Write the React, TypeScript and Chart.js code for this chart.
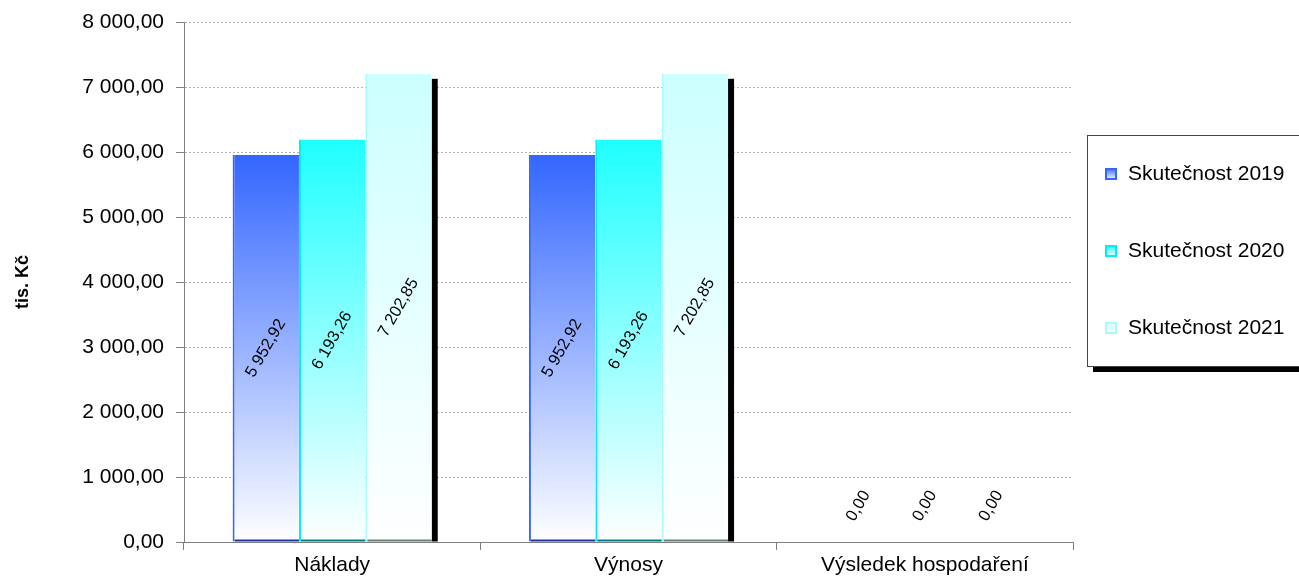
import React, { useEffect, useRef } from 'react';
import { Chart, registerables } from 'chart.js';

Chart.register(...registerables);

const categories = ['Náklady', 'Výnosy', 'Výsledek hospodaření'];
const seriesLabels = ['Skutečnost 2019', 'Skutečnost 2020', 'Skutečnost 2021'];
const values2019 = [5952.92, 5952.92, 0];
const values2020 = [6193.26, 6193.26, 0];
const values2021 = [7202.85, 7202.85, 0];
const yMin = 0;
const yMax = 8000;
const yStep = 1000;
const axisTitle = 'tis. Kč';

const topColors = ['#3366FF', '#1FFFFF', '#CCFFFF'];
const edgeColors = ['#3366FF', '#00F0F0', '#AAFAFA'];
const baseColors = ['#1F3399', '#008080', '#6A8080'];

const FONT = "'Liberation Sans', Arial, sans-serif";

function fmt(v: number): string {
  const [i, d] = Math.abs(v).toFixed(2).split('.');
  return (v < 0 ? '-' : '') + i.replace(/\B(?=(\d{3})+(?!\d))/g, ' ') + ',' + d;
}

function gradientFill(top: string) {
  return (ctx: any) => {
    const chart = ctx.chart;
    const { chartArea, scales } = chart;
    if (!chartArea || ctx.type !== 'data' || !scales.y) return top;
    const v = ctx.raw as number;
    const yTop = scales.y.getPixelForValue(v);
    const yBot = scales.y.getPixelForValue(0);
    if (yBot - yTop < 1) return top;
    const g = chart.ctx.createLinearGradient(0, yTop, 0, yBot);
    g.addColorStop(0, top);
    g.addColorStop(1, '#FFFFFF');
    return g;
  };
}

const shadowPlugin = {
  id: 'barShadow',
  beforeDatasetsDraw(chart: any) {
    const ctx = chart.ctx;
    ctx.save();
    ctx.fillStyle = '#000000';
    const n = chart.data.datasets.length;
    for (let di = 0; di < n; di++) {
      const meta = chart.getDatasetMeta(di);
      const nextMeta = di + 1 < n ? chart.getDatasetMeta(di + 1) : null;
      meta.data.forEach((el: any, i: number) => {
        const { x, y, base, width } = el.getProps(['x', 'y', 'base', 'width'], true);
        let bottom = base;
        if (nextMeta && nextMeta.data[i]) {
          const ny = nextMeta.data[i].getProps(['y'], true).y;
          bottom = Math.min(base, ny);
        }
        const h = bottom - (y + 5);
        if (h <= 0 || base - y < 6) return;
        ctx.fillRect(x + width / 2, y + 5, 6, h);
      });
    }
    ctx.restore();
  },
  afterDatasetsDraw(chart: any) {
    const ctx = chart.ctx;
    ctx.save();
    chart.data.datasets.forEach((ds: any, di: number) => {
      const meta = chart.getDatasetMeta(di);
      meta.data.forEach((el: any, i: number) => {
        const { x, y, base, width } = el.getProps(['x', 'y', 'base', 'width'], true);
        const v = ds.data[i] as number;
        if (base - y > 2) {
          ctx.fillStyle = baseColors[di];
          ctx.fillRect(x - width / 2 + 2, base - 2, width - 2, 2);
        }
        const cy = v === 0 ? base - 36 : (y + base) / 2;
        ctx.save();
        ctx.translate(x, cy);
        ctx.rotate(-Math.PI / 3);
        ctx.font = `16.5px ${FONT}`;
        ctx.fillStyle = '#000000';
        ctx.textAlign = 'center';
        ctx.textBaseline = 'middle';
        ctx.fillText(fmt(v), 0, 0);
        ctx.restore();
      });
    });
    ctx.restore();
  },
};

const legendPlugin = {
  id: 'boxLegend',
  afterDraw(chart: any) {
    const ctx = chart.ctx;
    const bx = 1087;
    const by = 135;
    const bw = 320;
    const bh = 231;
    ctx.save();
    ctx.fillStyle = '#000000';
    ctx.fillRect(bx + 6, by + 6, bw, bh);
    ctx.fillStyle = '#FFFFFF';
    ctx.fillRect(bx, by, bw, bh);
    ctx.strokeStyle = '#444444';
    ctx.lineWidth = 1;
    ctx.strokeRect(bx + 0.5, by + 0.5, bw, bh);
    const startY = 174;
    const gap = 77;
    chart.data.datasets.forEach((ds: any, di: number) => {
      const cy = startY + di * gap;
      const mx = 1105;
      const my = cy - 6;
      const g = ctx.createLinearGradient(0, my, 0, my + 12);
      g.addColorStop(0, topColors[di]);
      g.addColorStop(1, '#FFFFFF');
      ctx.fillStyle = edgeColors[di];
      ctx.fillRect(mx, my, 12, 12);
      ctx.fillStyle = g;
      ctx.fillRect(mx + 2, my + 2, 8, 8);
      ctx.fillStyle = '#000000';
      ctx.font = `21px ${FONT}`;
      ctx.textAlign = 'left';
      ctx.textBaseline = 'middle';
      ctx.fillText(ds.label, 1128, cy);
    });
    ctx.restore();
  },
};

export default function App() {
  const ref = useRef<HTMLCanvasElement | null>(null);

  useEffect(() => {
    if (!ref.current) return;
    const series = [values2019, values2020, values2021];
    const chart = new Chart(ref.current, {
      type: 'bar',
      data: {
        labels: categories,
        datasets: series.map((vals, i) => ({
          label: seriesLabels[i],
          data: vals,
          backgroundColor: gradientFill(topColors[i]),
          borderColor: edgeColors[i],
          borderWidth: { left: 2, right: 0, top: 0, bottom: 0 },
          borderSkipped: false,
          categoryPercentage: 0.672,
          barPercentage: 1,
        })),
      },
      options: {
        responsive: false,
        animation: false,
        layout: { padding: { left: 0, right: 226, top: 22, bottom: 0 } },
        plugins: {
          legend: { display: false },
          tooltip: { enabled: false },
        },
        scales: {
          x: {
            afterFit: (s: any) => {
              s.height = 36;
              s.paddingLeft = 0;
              s.paddingRight = 0;
            },
            grid: {
              display: true,
              drawOnChartArea: false,
              drawTicks: true,
              tickLength: 8,
              tickColor: '#808080',
              offset: true,
            },
            border: { display: true, color: '#808080', width: 1 },
            ticks: {
              color: '#000000',
              font: { family: FONT, size: 21 },
              padding: 3,
              maxRotation: 0,
              autoSkip: false,
            },
          },
          y: {
            min: yMin,
            max: yMax,
            afterFit: (s: any) => {
              s.width = 184;
              s.paddingTop = 0;
              s.paddingBottom = 0;
            },
            ticks: {
              stepSize: yStep,
              color: '#000000',
              font: { family: FONT, size: 21 },
              padding: 12,
              callback: (v: any) => fmt(Number(v)),
            },
            grid: {
              color: '#B0B0B0',
              lineWidth: 1,
              drawTicks: true,
              tickLength: 8,
              tickColor: '#808080',
              tickBorderDash: [],
            },
            border: { display: true, color: '#808080', width: 1, dash: [2, 2] },
            title: {
              display: true,
              text: axisTitle,
              color: '#000000',
              font: { family: FONT, size: 18, weight: 'bold' },
              padding: { top: 12, bottom: 0 },
            },
          },
        },
      },
      plugins: [shadowPlugin, legendPlugin],
    } as any);
    return () => chart.destroy();
  }, []);

  return (
    <div style={{ position: 'absolute', left: 0, top: 0, width: 1299, height: 578, background: '#FFFFFF' }}>
      <canvas ref={ref} width={1299} height={578} style={{ display: 'block' }} />
    </div>
  );
}
